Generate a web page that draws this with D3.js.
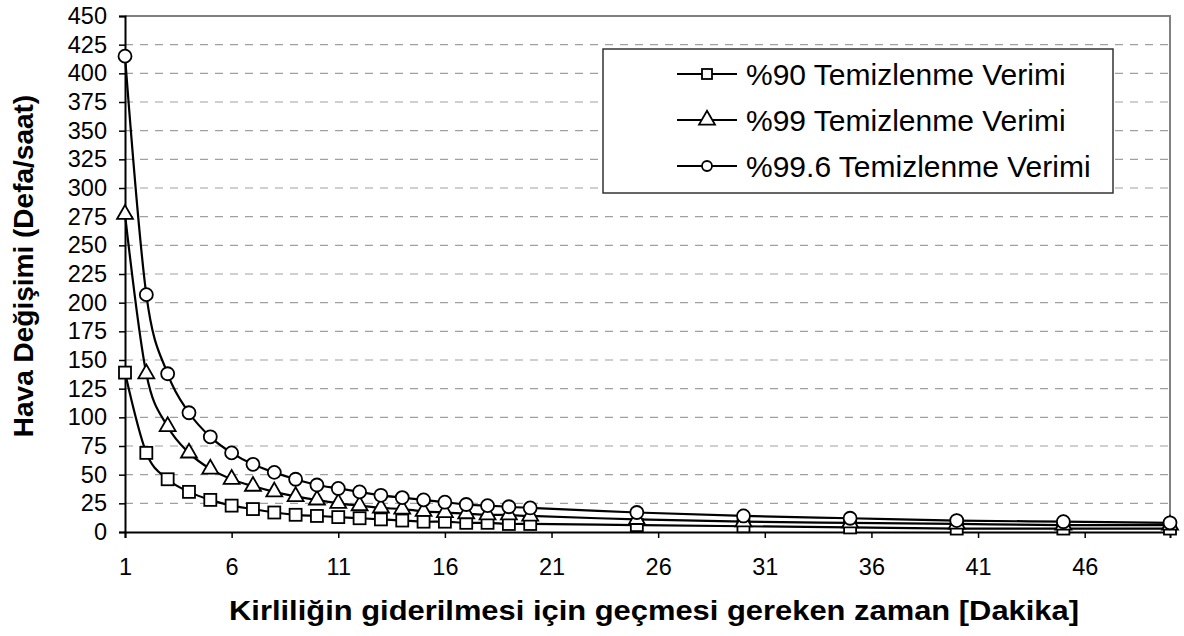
<!DOCTYPE html>
<html>
<head>
<meta charset="utf-8">
<script src="https://cdn.jsdelivr.net/npm/d3@7"></script>
<style>
  body { margin: 0; background: #fff; }
  text { font-family: "Liberation Sans", Arial, sans-serif; fill: #000; }
</style>
</head>
<body>
<svg id="chart" width="1184" height="636"></svg>
<script>
// minutes where a value was computed
const minutes = [1, 2, 3, 4, 5, 6, 7, 8, 9, 10, 11, 12, 13, 14, 15, 16, 17, 18, 19, 20, 25, 30, 35, 40, 45, 50];
const eff90 = [139, 69, 46, 35, 28, 23, 20, 17, 15, 14, 13, 12, 11, 10, 9, 9, 8, 8, 7, 7, 6, 5, 4, 3, 3, 3];
const eff99 = [277, 138, 92, 69, 55, 46, 40, 35, 31, 28, 25, 23, 21, 20, 18, 17, 16, 15, 15, 14, 11, 9, 8, 7, 6, 6];
const eff996 = [415, 207, 138, 104, 83, 69, 59, 52, 46, 41, 38, 35, 32, 30, 28, 26, 24, 23, 22, 21, 17, 14, 12, 10, 9, 8];
const seriesNames = ["%90 Temizlenme Verimi", "%99 Temizlenme Verimi", "%99.6 Temizlenme Verimi"];
const markerTypes = ["square", "triangle", "circle"];
const yTicks = [0, 25, 50, 75, 100, 125, 150, 175, 200, 225, 250, 275, 300, 325, 350, 375, 400, 425, 450];
const xTicks = [1, 6, 11, 16, 21, 26, 31, 36, 41, 46];

const svg = d3.select('#chart');
const plotL = 125, plotR = 1170, plotT = 16, plotB = 532;

const x = d3.scaleLinear().domain([1, 50]).range([plotL, plotR]);
const y = d3.scaleLinear().domain([0, 450]).range([plotB, plotT]);

// dashed gridlines
svg.append('g').selectAll('line')
    .data(yTicks.filter(d => d > 0 && d < 450))
    .enter().append('line')
    .attr('x1', plotL).attr('x2', plotR)
    .attr('y1', d => y(d)).attr('y2', d => y(d))
    .attr('stroke', '#a0a0a0').attr('stroke-width', 1.2)
    .attr('stroke-dasharray', '8,7');

// plot frame (top + right)
svg.append('path')
    .attr('d', `M${plotL},${plotT}H${plotR}V${plotB}`)
    .attr('fill', 'none').attr('stroke', '#808080').attr('stroke-width', 2);

// y axis
const yAxis = svg.append('g')
    .attr('transform', `translate(${plotL},0)`)
    .call(d3.axisLeft(y).tickValues(yTicks).tickSize(6).tickPadding(12));
yAxis.selectAll('text').style('font-size', '23.5px');

// x axis
const xAxis = svg.append('g')
    .attr('transform', `translate(0,${plotB})`)
    .call(d3.axisBottom(x).tickValues(xTicks).tickSize(6).tickPadding(20));
xAxis.selectAll('text').style('font-size', '23.5px');

svg.selectAll('.domain').attr('stroke', '#000').attr('stroke-width', 2);
svg.selectAll('.tick line').attr('stroke', '#000').attr('stroke-width', 1.5);

// axis titles
svg.append('text')
    .attr('transform', 'translate(33,266) rotate(-90)')
    .attr('text-anchor', 'middle')
    .style('font-size', '28px').style('font-weight', 'bold')
    .text('Hava Değişimi (Defa/saat)');

svg.append('text')
    .attr('x', 654).attr('y', 620)
    .attr('text-anchor', 'middle')
    .attr('textLength', 850).attr('lengthAdjust', 'spacingAndGlyphs')
    .style('font-size', '28px').style('font-weight', 'bold')
    .text('Kirliliğin giderilmesi için geçmesi gereken zaman [Dakika]');

// series
const allSeries = [eff90, eff99, eff996].map((vals, i) => ({
    name: seriesNames[i],
    marker: markerTypes[i],
    points: minutes.map((m, j) => ({ m: m, v: vals[j] }))
}));

const line = d3.line()
    .x(d => x(d.m)).y(d => y(d.v))
    .curve(d3.curveCardinal.tension(0));

function drawMarker(g, type) {
    if (type === 'square') {
        g.append('rect').attr('x', -6).attr('y', -6).attr('width', 12).attr('height', 12);
    } else if (type === 'triangle') {
        g.append('path').attr('d', d3.symbol().type(d3.symbolTriangle).size(110)());
    } else {
        g.append('circle').attr('r', 6.5);
    }
    g.selectAll('*').attr('fill', '#fff').attr('stroke', '#000').attr('stroke-width', 1.8);
}

const sg = svg.selectAll('.series').data(allSeries).enter().append('g').attr('class', 'series');
sg.append('path')
    .attr('d', d => line(d.points))
    .attr('fill', 'none').attr('stroke', '#000').attr('stroke-width', 2.2);

sg.each(function(s) {
    d3.select(this).selectAll('.pt').data(s.points).enter().append('g')
        .attr('class', 'pt')
        .attr('transform', d => `translate(${x(d.m)},${y(d.v)})`)
        .each(function() { drawMarker(d3.select(this), s.marker); });
});

// legend
const legend = svg.append('g');
legend.append('rect')
    .attr('x', 603).attr('y', 49).attr('width', 510).attr('height', 144)
    .attr('fill', '#fff').attr('stroke', '#333').attr('stroke-width', 1.5);

const rows = legend.selectAll('.row').data(allSeries).enter().append('g')
    .attr('transform', (d, i) => `translate(0,${74 + i * 46})`);
rows.append('line').attr('x1', 677).attr('x2', 737).attr('stroke', '#000').attr('stroke-width', 2);
rows.append('g').attr('transform', 'translate(707,0)')
    .each(function(d) { drawMarker(d3.select(this), d.marker); });
rows.selectAll('g').selectAll('rect').attr('x', -5).attr('y', -5).attr('width', 10).attr('height', 10);
rows.selectAll('g').selectAll('circle').attr('r', 5);
rows.append('text')
    .attr('x', 746).attr('dy', '0.35em')
    .style('font-size', '30px')
    .text(d => d.name);
</script>
</body>
</html>
